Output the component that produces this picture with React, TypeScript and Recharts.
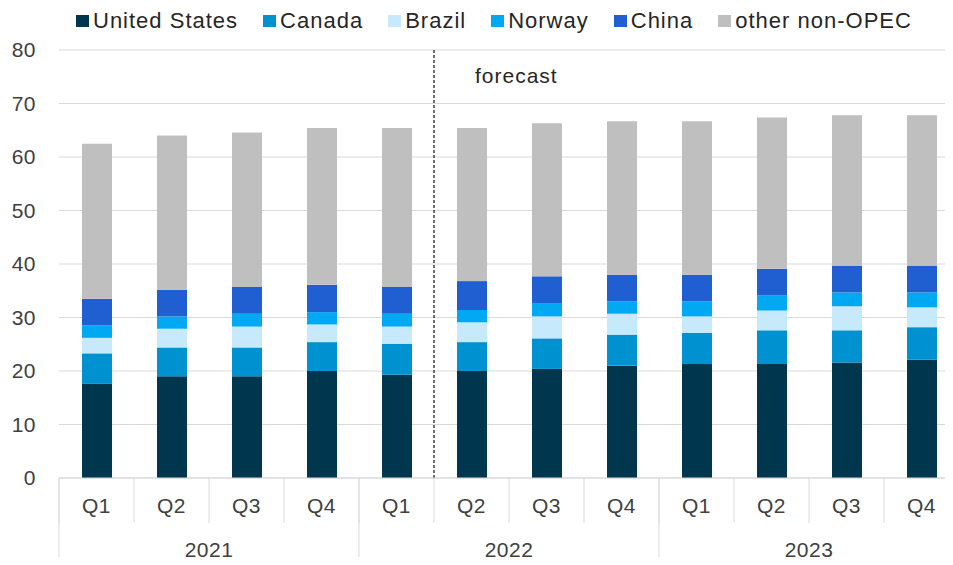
import React from "react";
import {
  BarChart,
  Bar,
  XAxis,
  YAxis,
  CartesianGrid,
  Legend,
  ReferenceLine,
} from "recharts";

// Quarterly non-OPEC liquids supply, mb/d
const quarters = ["Q1", "Q2", "Q3", "Q4", "Q1", "Q2", "Q3", "Q4", "Q1", "Q2", "Q3", "Q4"];
const years = ["2021", "2021", "2021", "2021", "2022", "2022", "2022", "2022", "2023", "2023", "2023", "2023"];
const unitedStates = [17.6, 19.0, 19.0, 20.0, 19.3, 20.0, 20.4, 21.0, 21.3, 21.3, 21.6, 22.1];
const canada = [5.7, 5.4, 5.4, 5.4, 5.8, 5.4, 5.7, 5.8, 5.8, 6.3, 6.0, 6.1];
const brazil = [2.9, 3.5, 3.9, 3.3, 3.2, 3.7, 4.1, 3.9, 3.1, 3.7, 4.5, 3.7];
const norway = [2.3, 2.3, 2.4, 2.3, 2.4, 2.3, 2.5, 2.3, 2.8, 2.8, 2.6, 2.8];
const china = [5.0, 5.0, 5.0, 5.1, 5.0, 5.4, 5.0, 5.0, 5.0, 5.0, 5.0, 5.0];
const otherNonOpec = [29.0, 28.8, 28.9, 29.3, 29.7, 28.6, 28.6, 28.7, 28.7, 28.3, 28.1, 28.1];
const yTicks = [0, 10, 20, 30, 40, 50, 60, 70, 80];
// index of the first forecast quarter (2022 Q2)
const forecastStart = 5;

const series = [
  { key: "us", name: "United States", color: "#00374f", values: unitedStates },
  { key: "canada", name: "Canada", color: "#0091d1", values: canada },
  { key: "brazil", name: "Brazil", color: "#c6e9fb", values: brazil },
  { key: "norway", name: "Norway", color: "#00a9f1", values: norway },
  { key: "china", name: "China", color: "#1f5fd1", values: china },
  { key: "other", name: "other non-OPEC", color: "#bfbfbf", values: otherNonOpec },
];

const chartData = quarters.map((q, i) => {
  const row: Record<string, any> = { key: `${years[i]} ${q}`, pos: i + 0.5 };
  series.forEach((s) => {
    row[s.key] = s.values[i];
  });
  return row;
});

const font = "'Liberation Sans', Arial, sans-serif";
const tickColor = "#404040";
const lineColor = "#d9d9d9";

const QuarterTick = (props: any) => {
  const { x, y, payload, index } = props;
  const half = payload?.offset || 37.5;
  return (
    <g>
      <line x1={x - half} x2={x - half} y1={y} y2={y + 45} stroke={lineColor} />
      {index === quarters.length - 1 && (
        <line x1={x + half} x2={x + half} y1={y} y2={y + 45} stroke={lineColor} />
      )}
      <text
        x={x}
        y={y + 35}
        textAnchor="middle"
        fill={tickColor}
        fontSize={21}
        fontFamily={font}
        letterSpacing={0.5}
      >
        {quarters[index]}
      </text>
    </g>
  );
};

const YearTick = (props: any) => {
  const { x, y, payload, index } = props;
  const half = payload?.offset || 37.5;
  const groupStart = index === 0 || years[index] !== years[index - 1];
  const groupLen = years.filter((yr) => yr === years[index]).length;
  return (
    <g>
      {groupStart && (
        <line x1={x - half} x2={x - half} y1={y - 45} y2={y + 45} stroke={lineColor} />
      )}
      {index === years.length - 1 && (
        <line x1={x + half} x2={x + half} y1={y - 45} y2={y + 45} stroke={lineColor} />
      )}
      {groupStart && (
        <text
          x={x - half + groupLen * half}
          y={y + 34}
          textAnchor="middle"
          fill={tickColor}
          fontSize={21}
          fontFamily={font}
          letterSpacing={0.5}
        >
          {years[index]}
        </text>
      )}
    </g>
  );
};

const LegendContent = () => (
  <div
    style={{
      display: "flex",
      paddingLeft: 76,
      gap: 25,
      fontFamily: font,
      fontSize: 22,
      letterSpacing: 1,
      color: "#262626",
      lineHeight: "22px",
    }}
  >
    {series.map((s) => (
      <div key={s.key} style={{ display: "flex", alignItems: "center", gap: 4 }}>
        <span style={{ width: 13, height: 12, background: s.color, display: "inline-block" }} />
        <span>{s.name}</span>
      </div>
    ))}
  </div>
);

const ForecastLabel = (props: any) => {
  const { viewBox } = props;
  return (
    <text
      x={viewBox.x + 41}
      y={viewBox.y + 33}
      fill="#262626"
      fontSize={21}
      fontFamily={font}
      letterSpacing={1}
    >
      forecast
    </text>
  );
};

export default function App() {
  return (
    <div style={{ margin: -8, width: 953, height: 565, overflow: "hidden", background: "#fff" }}>
      <BarChart
        width={960}
        height={565}
        data={chartData}
        margin={{ top: 10, right: 1, left: 0, bottom: 0 }}
        barSize={30}
      >
        <CartesianGrid vertical={false} stroke={lineColor} />
        <Legend
          verticalAlign="top"
          align="left"
          height={40}
          content={<LegendContent />}
        />
        <XAxis
          dataKey="key"
          interval={0}
          height={45}
          tickSize={0}
          tickMargin={0}
          axisLine={{ stroke: lineColor }}
          tickLine={false}
          tick={<QuarterTick />}
        />
        <XAxis
          xAxisId="year"
          dataKey="key"
          interval={0}
          height={42}
          tickSize={0}
          tickMargin={0}
          axisLine={false}
          tickLine={false}
          tick={<YearTick />}
        />
        <XAxis
          xAxisId="num"
          dataKey="pos"
          type="number"
          domain={[0, quarters.length]}
          height={0}
          hide
        />
        <YAxis
          width={59}
          domain={[0, 80]}
          ticks={yTicks}
          axisLine={false}
          tickLine={false}
          tickSize={0}
          tickMargin={23}
          tick={{ fill: tickColor, fontSize: 21, fontFamily: font, letterSpacing: 0.5 }}
        />
        {series.map((s) => (
          <Bar
            key={s.key}
            dataKey={s.key}
            name={s.name}
            stackId="supply"
            fill={s.color}
            isAnimationActive={false}
          />
        ))}
        <ReferenceLine
          xAxisId="num"
          x={forecastStart}
          stroke="#404040"
          strokeWidth={1.5}
          strokeDasharray="3 2"
          label={<ForecastLabel />}
        />
      </BarChart>
    </div>
  );
}
